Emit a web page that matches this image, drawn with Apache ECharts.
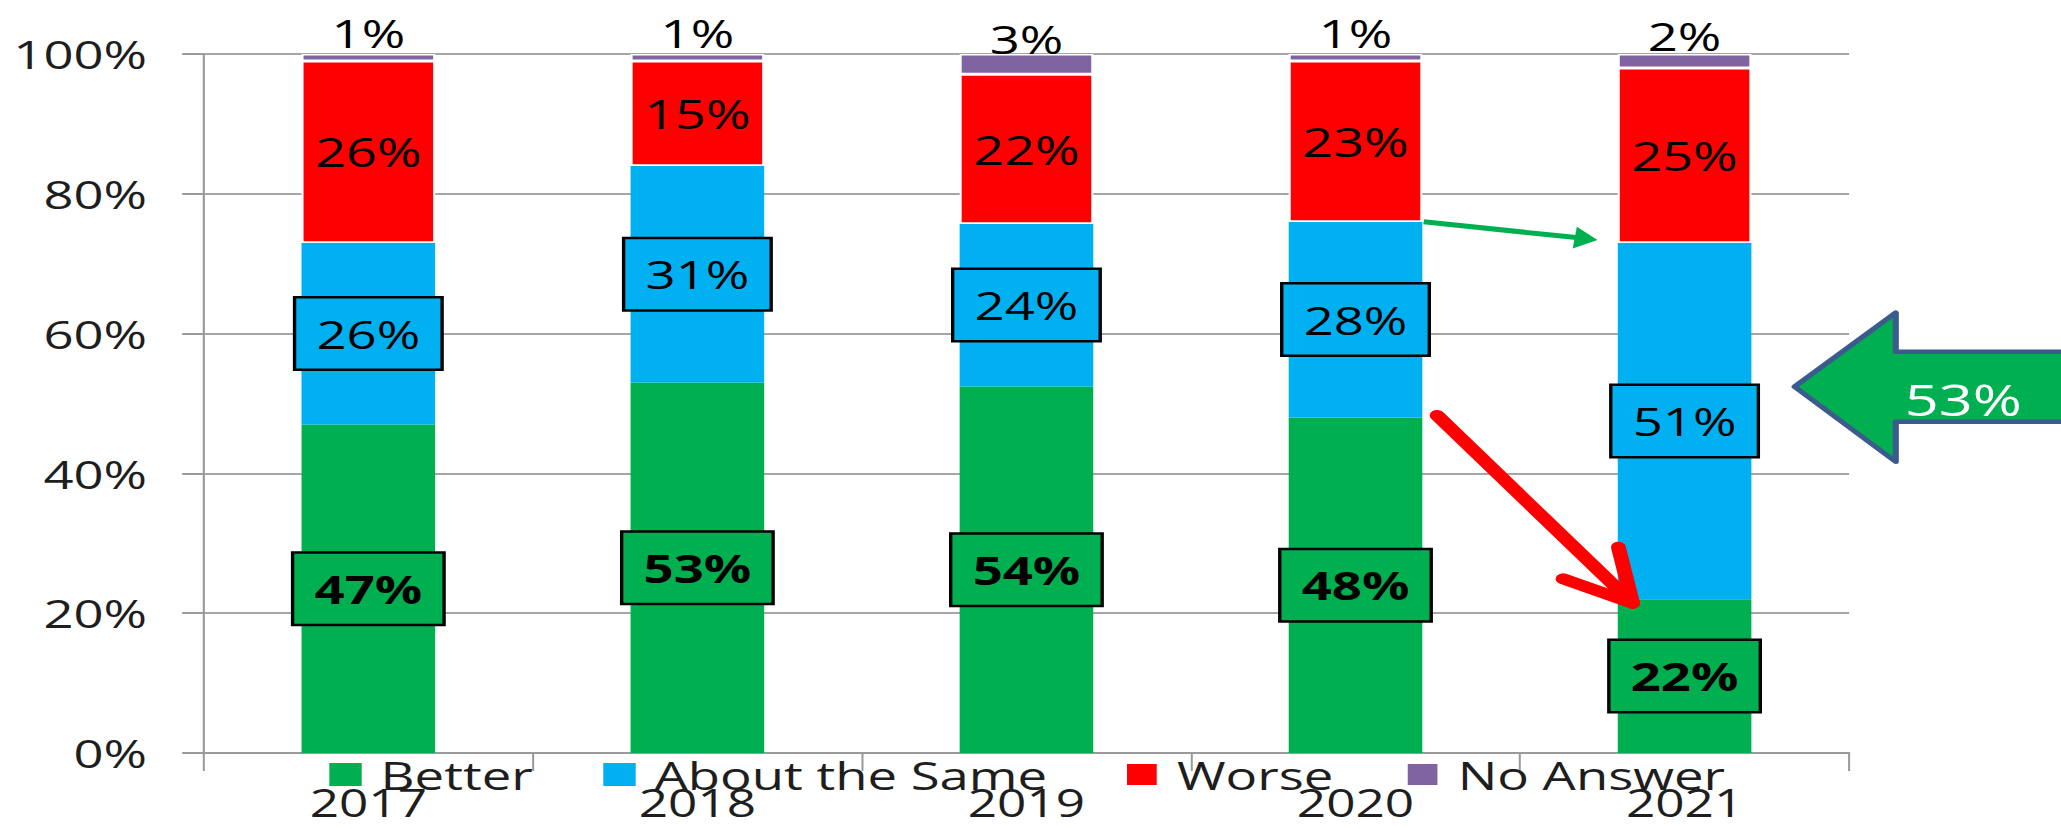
<!DOCTYPE html>
<html><head><meta charset="utf-8">
<script src="https://cdn.jsdelivr.net/npm/echarts@6/dist/echarts.min.js"></script>
<style>
html,body{margin:0;padding:0;background:#fff;overflow:hidden;}
#wrap{width:2061px;height:829px;overflow:hidden;position:relative;background:#fff;}
#chart{width:1527px;height:829px;transform:scaleX(1.349705);transform-origin:0 0;}
</style></head><body>
<div id="wrap"><div id="chart"></div></div>
<script>
// ---- data ----
const years = ['2017', '2018', '2019', '2020', '2021'];
const better = [47, 53, 54, 48, 22];
const aboutSame = [26, 31, 24, 28, 51];
const worse = [26, 15, 22, 23, 25];
const noAnswer = [1, 1, 3, 1, 2];
const seriesNames = ['Better', 'About the Same', 'Worse', 'No Answer'];
const yTicks = [0, 20, 40, 60, 80, 100];
const calloutText = '53%';
const calloutLevel = 52.4;

// ---- styling ----
const FONT = 'Open Sans';
const colors = ['#00B050', '#00B0F0', '#FF0000', '#8064A2'];
const BAR_W = 99;
const legendLefts = [239, 442, 828, 1036];
const raws = [better, aboutSame, worse, noAnswer];
const totals = years.map((_, i) => raws.reduce((s, r) => s + r[i], 0));
const shares = raws.map(r => r.map((v, i) => v / totals[i] * 100));
const cum = (i, k) => { let s = 0; for (let j = 0; j <= k; j++) s += shares[j][i]; return s; };
const fmt = p => raws[p.seriesIndex][p.dataIndex] + '%';

const boxLabel = (bg, bold) => ({
  show: true, position: 'inside', formatter: fmt,
  fontFamily: FONT, fontSize: 39, fontWeight: bold ? 'bold' : 'normal', color: '#000',
  backgroundColor: bg, borderColor: '#000', borderWidth: 2.5,
  padding: [15, 15, 15, 15], lineHeight: 40
});
const plainLabel = extra => Object.assign({
  show: true, position: 'inside', formatter: fmt,
  fontFamily: FONT, fontSize: 40, color: '#000', lineHeight: 40
}, extra || {});

const labels = [boxLabel(colors[0], true), boxLabel(colors[1], false), plainLabel(), plainLabel({offset: [0, -25], fontSize: 39})];

const chart = echarts.init(document.getElementById('chart'), null, {renderer: 'svg'});
const option = {
  animation: false,
  backgroundColor: '#fff',
  textStyle: {fontFamily: FONT},
  grid: {left: 151, right: 157, top: 54, bottom: 76, containLabel: false},
  legend: seriesNames.map((name, k) => ({
    data: [name], left: legendLefts[k], top: 750, itemWidth: 24, itemHeight: 23,
    icon: 'rect', selectedMode: false,
    textStyle: {fontFamily: FONT, fontSize: 39, color: '#1e1e1e', lineHeight: 28, padding: [0, 0, 0, 9]}
  })),
  xAxis: {
    type: 'category', data: years,
    axisLine: {lineStyle: {color: '#9a9a9a', width: 2}},
    axisTick: {show: true, length: 18, lineStyle: {color: '#9a9a9a', width: 1.5}},
    axisLabel: {fontFamily: FONT, fontSize: 38, color: '#1e1e1e', margin: 34, lineHeight: 30}
  },
  yAxis: {
    type: 'value', min: yTicks[0], max: yTicks[yTicks.length - 1], interval: yTicks[1] - yTicks[0],
    axisLine: {show: true, lineStyle: {color: '#9a9a9a', width: 1.6}},
    axisTick: {show: true, length: 16, lineStyle: {color: '#9a9a9a', width: 2}},
    splitLine: {lineStyle: {color: '#a6a6a6', width: 2}},
    axisLabel: {fontFamily: FONT, fontSize: 39, color: '#1e1e1e', margin: 42, formatter: v => v + '%'}
  },
  series: seriesNames.map((name, k) => ({
    name, type: 'bar', stack: 'total', barWidth: BAR_W,
    data: shares[k],
    itemStyle: k >= 2 ? {color: colors[k], borderColor: '#fff', borderWidth: 1.5} : {color: colors[k]},
    label: labels[k],
    emphasis: {disabled: true}
  }))
};
chart.setOption(option);

// ---- annotations, positioned through the axes ----
const px = (cat, v) => chart.convertToPixel({xAxisIndex: 0, yAxisIndex: 0}, [cat, v]);
const half = BAR_W / 2;
function headPts(x1, y1, x2, y2, len, hw) {
  const dx = x2 - x1, dy = y2 - y1, L = Math.hypot(dx, dy), ux = dx / L, uy = dy / L;
  const bx = x2 - ux * len, by = y2 - uy * len;
  return {pts: [[x2, y2], [bx - uy * hw, by + ux * hw], [bx + uy * hw, by - ux * hw]], bx, by};
}
const g = [];
// green arrow: 2020 "same" top -> 2021
{
  const a = px(years[3], cum(3, 1)), b = px(years[4], cum(4, 1) + 0.4);
  const x1 = a[0] + half + 1, y1 = a[1], x2 = b[0] - half - 15, y2 = b[1];
  const h = headPts(x1, y1, x2, y2, 17, 11);
  g.push({type: 'line', shape: {x1, y1, x2: h.bx + 1, y2: h.by}, style: {stroke: '#00B050', lineWidth: 5}, z: 100});
  g.push({type: 'polygon', shape: {points: h.pts}, style: {fill: '#00B050'}, z: 100});
}
// red arrow: 2020 "better" top -> 2021 "better" top
{
  const a = px(years[3], cum(3, 0)), b = px(years[4], cum(4, 0));
  const x1 = a[0] + half + 11, y1 = a[1] - 2, x2 = b[0] - half + 11, y2 = b[1] + 4;
  const ang = Math.atan2(y1 - y2, x1 - x2), d = 27 * Math.PI / 180, L = 57;
  const arm1 = [x2 + L * Math.cos(ang + d), y2 + L * Math.sin(ang + d)];
  const arm2 = [x2 + L * Math.cos(ang - d), y2 + L * Math.sin(ang - d)];
  g.push({type: 'line', shape: {x1, y1, x2, y2}, style: {stroke: '#FF0000', lineWidth: 11, lineCap: 'round'}, z: 100});
  g.push({type: 'polyline', shape: {points: [arm1, [x2, y2], arm2]}, style: {stroke: '#FF0000', fill: null, lineWidth: 11, lineCap: 'round', lineJoin: 'round'}, z: 100});
}
// big callout arrow
{
  const b = px(years[4], calloutLevel);
  const tx = b[0] + half + 32, ty = b[1];
  const hx = tx + 75, far = 1560;
  const pts = [[tx, ty], [hx, ty - 74], [hx, ty - 35], [far, ty - 35], [far, ty + 35], [hx, ty + 35], [hx, ty + 75]];
  g.push({type: 'polygon', shape: {points: pts}, style: {fill: '#00B050', stroke: '#3B5B8C', lineWidth: 4.5, lineJoin: 'round'}, z: 100});
  g.push({type: 'text', style: {text: calloutText, x: tx + 125, y: ty + 12, fill: '#fff', fontSize: 44, fontFamily: FONT, align: 'center', verticalAlign: 'middle'}, z: 101});
}
chart.setOption({graphic: {elements: g}});
</script>
</body></html>
